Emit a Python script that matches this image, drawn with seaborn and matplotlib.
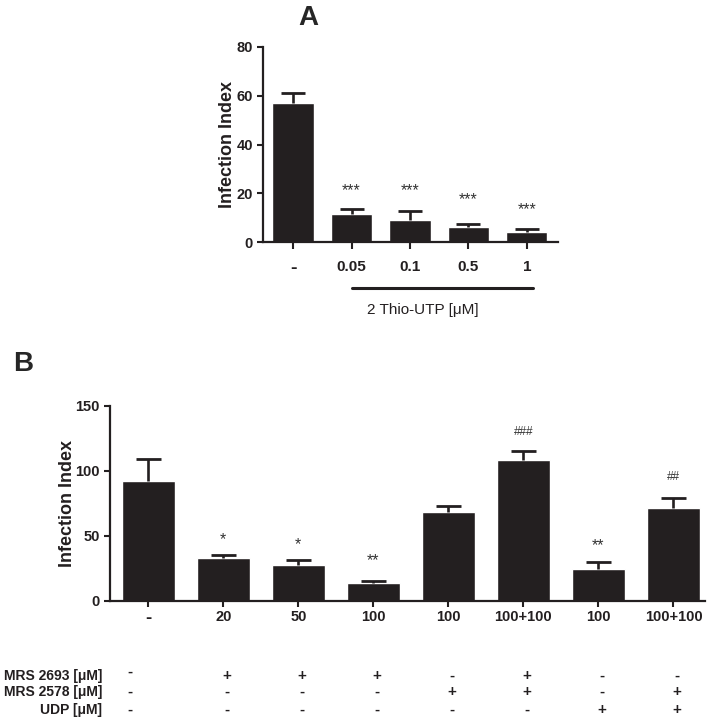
import numpy as np
import pandas as pd
import matplotlib
matplotlib.use("Agg")
import matplotlib.pyplot as plt
import matplotlib.transforms as mtransforms
import seaborn as sns

# panel A data
labels_a = ["-", "0.05", "0.1", "0.5", "1"]
values_a = [57.2, 11.7, 9.1, 6.4, 4.1]
err_a = [3.8, 1.8, 3.9, 1.2, 1.2]
stars_a = ["", "***", "***", "***", "***"]
stars_a_y = [0, 21.1, 21.1, 17.3, 13.2]

# panel B data
labels_b = ["-", "20", "50", "100", "100", "100+100", "100", "100+100"]
values_b = [92.3, 32.6, 27.7, 13.8, 68.0, 108.5, 24.4, 71.0]
err_b = [16.7, 2.8, 3.8, 1.6, 5.0, 6.9, 5.4, 8.2]
marks_b = ["", "*", "*", "**", "", "###", "**", "##"]
marks_b_y = [0, 47, 43, 30.5, 0, 130, 42.3, 95.4]

row_names = ["MRS 2693 [\u03bcM]", "MRS 2578 [\u03bcM]", "UDP [\u03bcM]"]
mrs2693 = ["-", "+", "+", "+", "-", "+", "-", "-"]
mrs2578 = ["-", "-", "-", "-", "+", "+", "-", "+"]
udp = ["-", "-", "-", "-", "-", "-", "+", "+"]

sns.set_style("ticks")
plt.rcParams["font.family"] = ["Liberation Sans", "DejaVu Sans"]

BAR = "#231f20"

fig = plt.figure(figsize=(7.16, 7.21), dpi=100)
W, H = 716, 721


def px_axes(left, top, right, bottom):
    return fig.add_axes([left / W, 1 - bottom / H, (right - left) / W, (bottom - top) / H])


def style_axes(ax, ymax, step, xsize):
    for s in ["top", "right"]:
        ax.spines[s].set_visible(False)
    for s in ["left", "bottom"]:
        ax.spines[s].set_linewidth(1.6)
        ax.spines[s].set_color("#231f20")
    ax.set_ylim(0, ymax)
    ax.set_yticks(np.arange(0, ymax + 1, step))
    ax.tick_params(axis="both", width=1.5, length=4, color="#231f20")
    ax.tick_params(axis="y", labelsize=10.5)
    ax.tick_params(axis="x", labelsize=xsize)
    for t in ax.get_yticklabels() + ax.get_xticklabels():
        t.set_fontweight("bold")
        t.set_color("#231f20")
    # the "-" control label is drawn as a heavier dash
    ax.get_xticklabels()[0].set_fontsize(xsize + 3)
    ax.set_xlabel("")


def upper_errors(ax, x, vals, errs, capsize):
    eb = ax.errorbar(x, vals, yerr=[np.zeros(len(x)), errs], fmt="none",
                     ecolor=BAR, elinewidth=1.9, capsize=capsize, capthick=2)
    # keep only the top cap
    eb[1][0].set_visible(False)


# ---- panel A ----
ax_a = px_axes(263.3, 47, 558.3, 242.3)
df_a = pd.DataFrame({"dose": labels_a, "value": values_a})
sns.barplot(data=df_a, x="dose", y="value", order=labels_a, color=BAR,
            saturation=1, width=0.71, errorbar=None, ax=ax_a)
xa = np.arange(len(labels_a))
upper_errors(ax_a, xa, values_a, err_a, 8.5)
ax_a.set_xlim(-0.51, 4.54)
style_axes(ax_a, 80, 20, 11)
ax_a.tick_params(axis="x", length=5, pad=8)
ax_a.set_ylabel("Infection Index", fontsize=13, fontweight="bold", color="#231f20")
ax_a.yaxis.set_label_coords(-0.093, 0.5)
for x, s, y in zip(xa, stars_a, stars_a_y):
    if s:
        ax_a.text(x, y, s, ha="center", va="center", fontsize=11.5, color="#333333")

trans_a = mtransforms.blended_transform_factory(ax_a.transData, fig.transFigure)
ax_a.plot([1.0, 4.1], [1 - 288.3 / H] * 2, color="#231f20", lw=2.2,
          transform=trans_a, clip_on=False)
ax_a.text(2.22, 1 - 310 / H, "2 Thio-UTP [\u03bcM]", ha="center", va="center",
          fontsize=11, transform=trans_a, color="#231f20")

# ---- panel B ----
ax_b = px_axes(110, 405.7, 705, 600.7)
df_b = pd.DataFrame({"cond": [f"c{i}" for i in range(len(labels_b))],
                     "value": values_b})
sns.barplot(data=df_b, x="cond", y="value", color=BAR, saturation=1,
            width=0.71, errorbar=None, ax=ax_b)
xb = np.arange(len(labels_b))
upper_errors(ax_b, xb, values_b, err_b, 9)
ax_b.set_xlim(-0.51, 7.42)
ax_b.set_xticks(xb)
ax_b.set_xticklabels(labels_b)
style_axes(ax_b, 150, 50, 10.5)
ax_b.tick_params(axis="x", length=4, pad=3)
ax_b.set_ylabel("Infection Index", fontsize=13, fontweight="bold", color="#231f20")
ax_b.yaxis.set_label_coords(-0.057, 0.5)
for x, s, y in zip(xb, marks_b, marks_b_y):
    if s:
        fs = 11.5 if "*" in s else 8.5
        ax_b.text(x, y, s, ha="center", va="center", fontsize=fs, color="#333333")

# treatment table under panel B
trans_b = mtransforms.blended_transform_factory(ax_b.transData, fig.transFigure)
row_y = [675.7, 691.7, 710]
for name, row, y in zip(row_names, [mrs2693, mrs2578, udp], row_y):
    fig.text(102 / W, 1 - y / H, name, ha="right", va="center",
             fontsize=10, fontweight="bold", color="#231f20")
    for i, sign in enumerate(row):
        xpos = -0.25 if i == 0 else i + 0.05
        ypos = y - 4 if (i == 0 and y == row_y[0]) else y
        ax_b.text(xpos, 1 - ypos / H, sign, ha="center", va="center",
                  fontsize=11, fontweight="bold", transform=trans_b,
                  color="#231f20")

# panel letters
fig.text(298 / W, 1 - 25 / H, "A", fontsize=20, fontweight="bold", va="baseline")
fig.text(13 / W, 1 - 371 / H, "B", fontsize=20, fontweight="bold", va="baseline")

fig.savefig("out.png", dpi=100)
plt.close(fig)
